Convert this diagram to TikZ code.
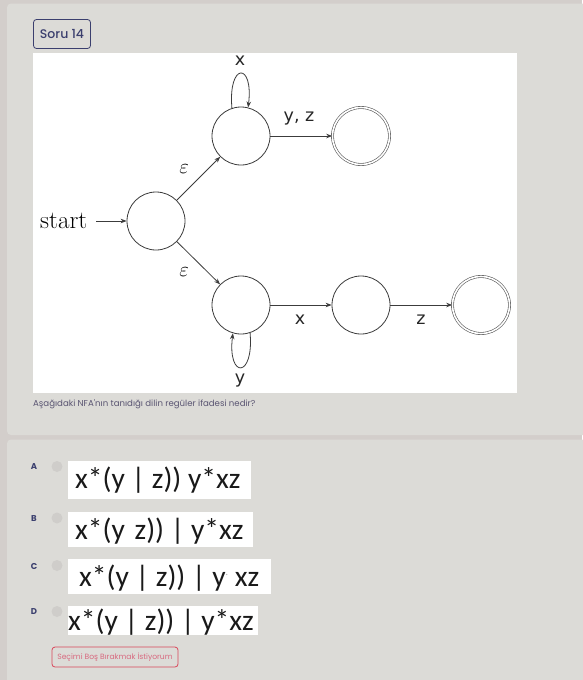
\documentclass[tikz,border=0pt]{standalone}
\usepackage{fontspec}
\newfontfamily\pop{Poppins}
\newfontfamily\popm{Poppins Medium}
\newfontfamily\lab{DejaVu Sans}
\newfontfamily\ans{Carlito}
\usetikzlibrary{arrows.meta}
\definecolor{outerbg}{HTML}{D3CECB}
\definecolor{cardbg}{HTML}{DCDBD7}
\definecolor{navy}{HTML}{3B3F6E}
\definecolor{qtext}{HTML}{5A5572}
\definecolor{lineg}{HTML}{3C3C3C}
\definecolor{radio}{HTML}{CFCDCA}
\definecolor{btnred}{HTML}{D9475A}
\definecolor{btntext}{HTML}{D86A80}
\tikzset{
  st/.style={circle, draw=lineg, line width=0.8pt, minimum size=58pt, inner sep=0pt},
  acc/.style={circle, draw=lineg!85, line width=0.6pt, double=white, double distance=1.6pt, minimum size=57pt, inner sep=0pt},
  arr/.style={draw=lineg, line width=0.8pt, -{Stealth[length=6pt,width=4.5pt]}},
  lbl/.style={font=\lab\fontsize{17.5}{19}\selectfont, text=black!85, inner sep=0pt},
  optl/.style={font=\pop\bfseries\fontsize{8.5}{10}\selectfont, text=navy, inner sep=0pt},
  radiob/.style={circle, fill=radio, minimum size=11pt, inner sep=0pt},
  anstxt/.style={font=\ans\fontsize{29.5}{32}\selectfont, text=black!90, inner sep=0pt, anchor=base west}
}
\begin{document}
\begin{tikzpicture}[x=1pt,y=-1pt]
\useasboundingbox (0,0) rectangle (582,680);
% backgrounds
\fill[outerbg] (0,0) rectangle (582,680);
\fill[cardbg, rounded corners=4pt] (7,3.5) rectangle (590,435);
\fill[cardbg, rounded corners=4pt] (7,439.5) rectangle (590,690);
% header box
\node[draw=navy, line width=0.8pt, rounded corners=3pt, minimum width=57pt, minimum height=29pt, inner sep=0pt, font=\popm\fontsize{12.5}{14}\selectfont, text=navy] (soru) at (62,34) {Soru 14};
% white image
\fill[white] (33,53) rectangle (517,393);
% states
\node[st] (s0) at (156,221) {};
\node[st] (q1) at (241,136) {};
\node[acc] (f1) at (361,136) {};
\node[st] (q2) at (241,305) {};
\node[st] (q3) at (361,305) {};
\node[acc] (f2) at (481,305) {};
\node[font=\fontsize{25}{27}\selectfont, inner sep=0pt, anchor=base west] (startl) at (40,228.5) {start};
\coordinate (sa) at (96,221);
\draw[arr] (sa) -- (s0);
\draw[arr] (s0) -- (q1);
\draw[arr] (s0) -- (q2);
\draw[arr] (q1) -- (f1);
\draw[arr] (q2) -- (q3);
\draw[arr] (q3) -- (f2);
\draw[arr] (q1.108) .. controls +(-95:46) and +(-83:46) .. (q1.76);
\draw[arr] (q2.-72) .. controls +(85:46) and +(97:46) .. (q2.-106);
% labels
\node[lbl] (lx1) at (240,61) {x};
\node[lbl] (lyz) at (299,119) {y, z};
\node[font=\fontsize{20}{21}\selectfont, inner sep=0pt] (le1) at (184,169) {$\varepsilon$};
\node[font=\fontsize{20}{21}\selectfont, inner sep=0pt] (le2) at (184,272) {$\varepsilon$};
\node[lbl] (lx2) at (300,320) {x};
\node[lbl] (lz) at (421,320) {z};
\node[lbl] (ly) at (240,381) {y};
% question
\node[font=\pop\fontsize{8.6}{10}\selectfont, text=qtext, anchor=base west, inner sep=0pt] (qq) at (33,406.5) {Aşağıdaki NFA'nın tanıdığı dilin regüler ifadesi nedir?};
% options
\node[optl] (oa) at (34,467) {A};
\node[optl] (ob) at (34,519) {B};
\node[optl] (oc) at (34,566) {C};
\node[optl] (od) at (34,612) {D};
\node[radiob] (ra) at (57,466.5) {};
\node[radiob] (rb) at (57,518) {};
\node[radiob] (rc) at (57,565.5) {};
\node[radiob] (rd) at (57,611.5) {};
\fill[white] (68,461) rectangle (251,499);
\fill[white] (68,512) rectangle (253,547);
\fill[white] (68,559) rectangle (271,594);
\fill[white] (68,606) rectangle (258,635);
\node[anstxt] (ta) at (75,488) {x*(y | z)) y*xz};
\node[anstxt] (tb) at (75,539) {x*(y\hspace{3pt} z)) | y*xz};
\node[anstxt] (tc) at (79,586) {x*(y | z)) | y{\textcolor{black!35}{\fontsize{10}{10}\selectfont\raisebox{11pt}{.}}} xz};
\node[anstxt] (td) at (68,630) {x*(y | z)) | y*xz};
% button
\node[draw=btnred, line width=0.8pt, rounded corners=3pt, minimum width=126pt, minimum height=20pt, inner sep=0pt, font=\pop\fontsize{7.6}{9}\selectfont, text=btntext] (btn) at (115,657) {Seçimi Boş Bırakmak İstiyorum};
\end{tikzpicture}
\end{document}
